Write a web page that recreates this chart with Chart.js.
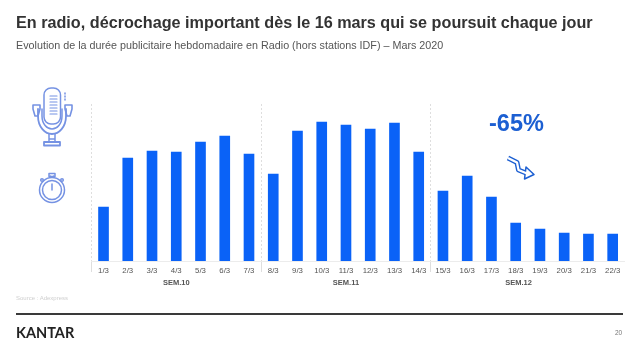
<!DOCTYPE html>
<html lang="fr"><head><meta charset="utf-8">
<script src="https://cdn.jsdelivr.net/npm/chart.js@4"></script>
<style>
html,body{margin:0;padding:0;background:#fff;width:632px;height:355px;overflow:hidden;font-family:"Liberation Sans",Arial,sans-serif}
#wrap{position:relative;width:632px;height:355px}
canvas{position:absolute;left:0;top:0}
.t{position:absolute;white-space:nowrap;line-height:1}
svg{position:absolute;left:0;top:0}
</style></head><body>
<div id="wrap">
<canvas id="c" width="632" height="355"></canvas>
<div class="t" style="left:16px;top:14px;font-size:16.2px;font-weight:bold;color:#333">En radio, décrochage important dès le 16 mars qui se poursuit chaque jour</div>
<div class="t" style="left:16px;top:39.5px;font-size:10.75px;color:#555">Evolution de la durée publicitaire hebdomadaire en Radio (hors stations IDF) – Mars 2020</div>
<div class="t" style="left:489px;top:112px;font-size:23.5px;font-weight:bold;color:#1c5fd2">-65%</div>
<div class="t" style="left:16px;top:295px;font-size:6px;color:#cfcfcf">Source : Adexpress</div>
<div class="t" style="left:615px;top:330px;font-size:6.5px;color:#777">20</div>
<div style="position:absolute;left:16px;top:312.5px;width:607px;height:2px;background:#3a3a3a"></div>
<div class="t" style="left:16px;top:326px;font-family:Lato,sans-serif;font-size:14.5px;font-weight:bold;color:#222">KANTAR</div>
<svg width="632" height="355" fill="none" stroke="#7592e3" stroke-width="1.5" stroke-linejoin="round" stroke-linecap="round">
  <rect x="44" y="88" width="16.5" height="36" rx="7"/>
  <path d="M50 96h7M50 99h7M50 102h7M50 105h7M50 108h7M50 111h7M50 114h7" stroke-width="1.2"/>
  <path d="M38 109v7c0 11 7 18 14 18s14-7 14-18v-7" stroke-width="1.8"/>
  <path d="M42 109v7c0 8 5 13 10 13s10-5 10-13v-7"/>
  <path d="M33 105h7v4l-2 7h-3l-2-7zM65 105h7v4l-2 7h-3l-2-7zM33 105h7M65 105h7" stroke-width="1.6"/>
  <path d="M49 134v8M55 134v8M49 139h6" />
  <path d="M44 142h16v3.5H44z" stroke-width="1.8"/>
  <path d="M65 93v1M65 96v1M65 99v1"/>
  <circle cx="52" cy="190" r="12.5"/><circle cx="52" cy="190" r="9.5"/>
  <path d="M49 173.5h6v3h-6zM50.5 177v-1M53.5 177v-1M52 184v6"/>
  <circle cx="62" cy="180" r="1.3"/><circle cx="42" cy="180" r="1.3"/>
  <g>
    <path d="M508 158L517 162.500L518.500 170L526 173" stroke="#1c5fd2" stroke-width="5" stroke-linecap="butt"/>
    <path d="M526 167L534 174.500L524.500 179Z" fill="#fff" stroke="#1c5fd2" stroke-width="1.500"/>
    <path d="M508 158L517 162.500L518.500 170L527 173.500" stroke="#fff" stroke-width="2.200" stroke-linecap="butt"/>
  </g>
</svg>
</div>
<script>
const categories=["1/3","2/3","3/3","4/3","5/3","6/3","7/3","8/3","9/3","10/3","11/3","12/3","13/3","14/3","15/3","16/3","17/3","18/3","19/3","20/3","21/3","22/3"];
const duree=[54,103,110,109,119,125,107,87,130,139,136,132,138,109,70,85,64,38,32,28,27,27];
const weekLabels=["SEM.10","SEM.11","SEM.12"];
const weekCenters=[3,10,17.12];
const weekStarts=[0,7,14];

const weekPlugin={id:'weeks',afterDraw(ch){
  const g=ch.ctx,x=ch.scales.x;
  g.save();g.font='bold 7.5px "Liberation Sans"';g.fillStyle='#555';g.textAlign='center';g.textBaseline='middle';
  weekLabels.forEach((l,i)=>g.fillText(l,x.getPixelForValue(weekCenters[i]),282.5));
  g.restore();
}};
new Chart(document.getElementById('c'),{
  type:'bar',
  data:{labels:categories,datasets:[{data:duree,backgroundColor:'#0a62f7',barThickness:10}]},
  plugins:[weekPlugin],
  options:{
    responsive:false,animation:false,
    layout:{padding:{left:91.4,right:7.2,top:104,bottom:0}},
    plugins:{legend:{display:false},tooltip:{enabled:false},title:{display:false}},
    scales:{
      y:{display:false,min:0,max:157},
      x:{
        afterFit(s){s.height=94;},
        border:{display:true,color:'#ececec',width:1,dash:[2,2]},
        grid:{offset:true,drawOnChartArea:true,drawTicks:true,tickLength:11,
          color:c=>weekStarts.includes(c.index)?'#dedede':'rgba(0,0,0,0)',
          tickColor:c=>weekStarts.includes(c.index)?'#dedede':'rgba(0,0,0,0)',
          lineWidth:1},
        ticks:{autoSkip:false,maxRotation:0,padding:-5.5,color:'#555',font:{family:'"Liberation Sans"',size:7.8}}
      }
    }
  }
});
</script>
</body></html>
